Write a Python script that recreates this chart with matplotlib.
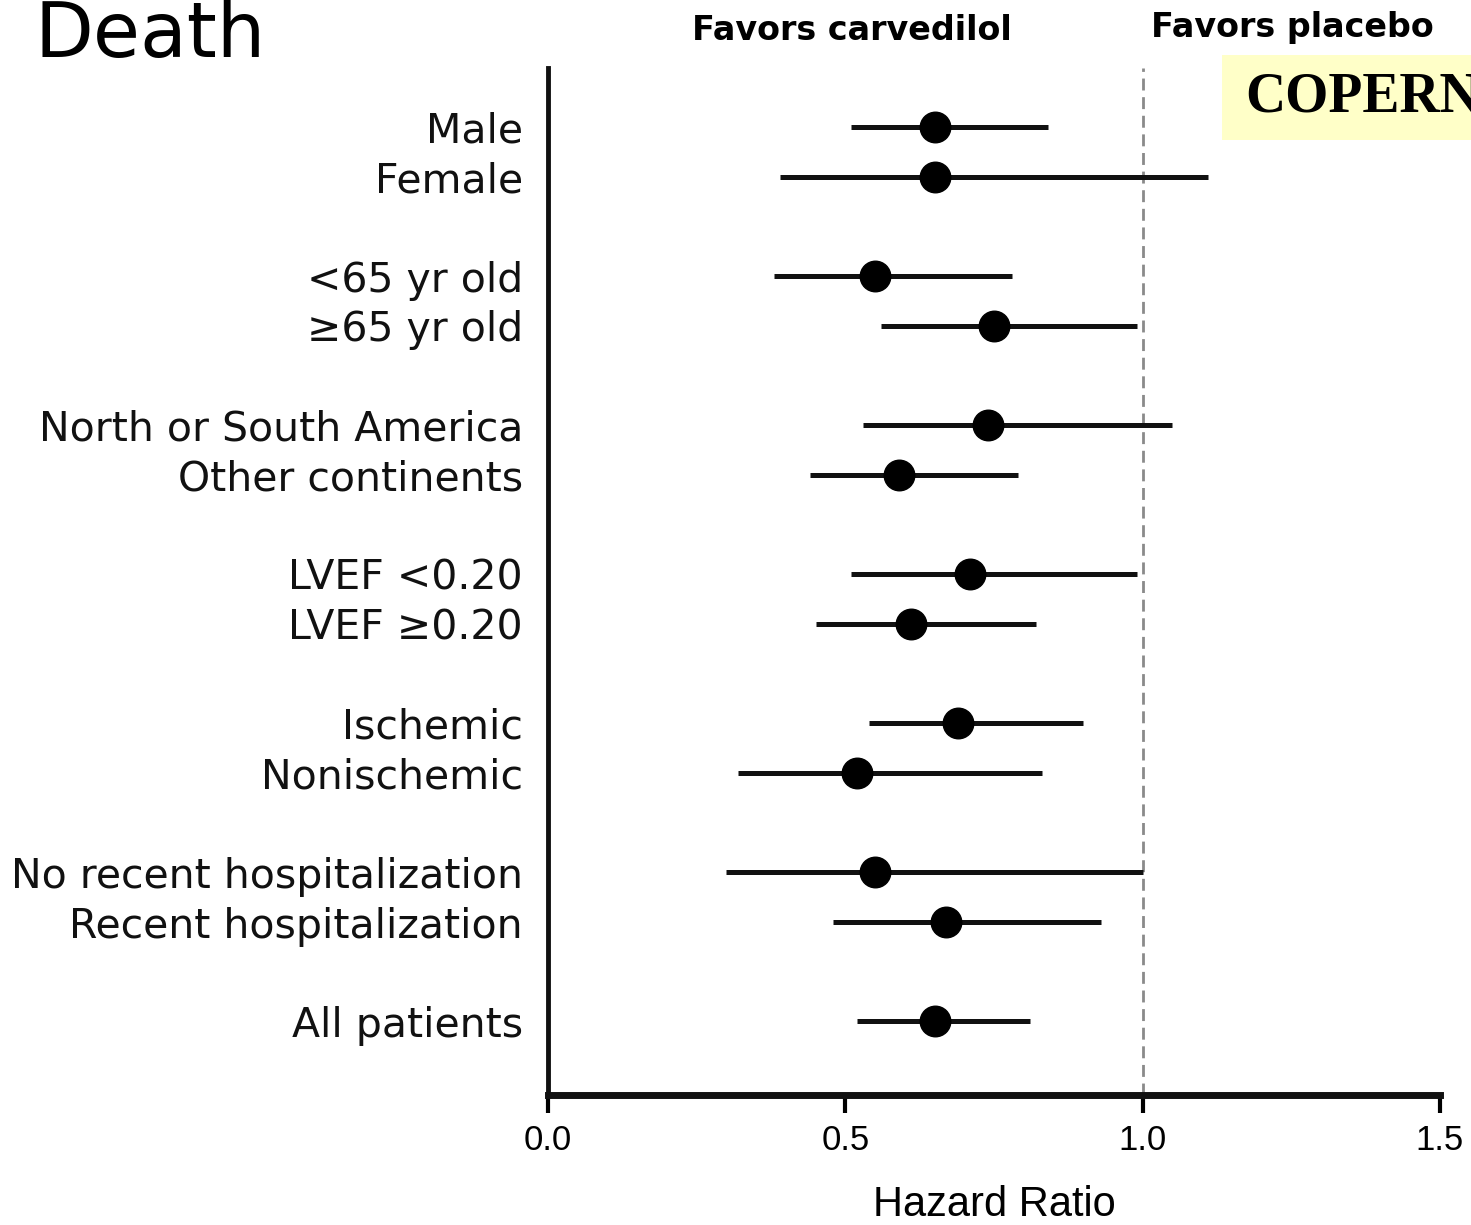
import matplotlib
matplotlib.use("Agg")
import matplotlib.pyplot as plt
from matplotlib.patches import Rectangle

# Subgroup hazard ratios with 95% confidence limits
labels = ["Male", "Female",
          "<65 yr old", "\u226565 yr old",
          "North or South America", "Other continents",
          "LVEF <0.20", "LVEF \u22650.20",
          "Ischemic", "Nonischemic",
          "No recent hospitalization", "Recent hospitalization",
          "All patients"]
rows = [0, 1, 3, 4, 6, 7, 9, 10, 12, 13, 15, 16, 18]
hr = [0.65, 0.65, 0.55, 0.75, 0.74, 0.59, 0.71, 0.61, 0.69, 0.52, 0.55, 0.67, 0.65]
lower = [0.51, 0.39, 0.38, 0.56, 0.53, 0.44, 0.51, 0.45, 0.54, 0.32, 0.30, 0.48, 0.52]
upper = [0.84, 1.11, 0.78, 0.99, 1.05, 0.79, 0.99, 0.82, 0.90, 0.83, 1.00, 0.93, 0.81]
xticks = [0.0, 0.5, 1.0, 1.5]
xtick_labels = ["0.0", "0.5", "1.0", "1.5"]

W, H = 1471, 1225
fig = plt.figure(figsize=(W / 100, H / 100), dpi=100)
ax = fig.add_axes([548 / W, 1 - 1095 / H, (1440 - 548) / W, (1095 - 68) / H])

for y, h, lo, up in zip(rows, hr, lower, upper):
    ax.plot([lo, up], [y, y], color="#111111", lw=3.6, solid_capstyle="butt", zorder=3)
    ax.plot(h, y, "o", color="black", ms=22, zorder=4)

ax.axvline(1.0, color="#8a8a8a", lw=2, ls=(0, (4.3, 2.4)), zorder=1)

ax.set_xlim(0, 1.5)
ax.set_ylim(19.48, -1.19)
ax.set_yticks(rows)
ax.set_yticklabels(labels)
for t in ax.get_yticklabels():
    t.set_fontsize(29.5)
    t.set_family("DejaVu Sans")
    t.set_color("#111111")
ax.tick_params(axis="y", length=0, pad=18)
ax.set_xticks(xticks)
ax.set_xticklabels(xtick_labels)
for t in ax.get_xticklabels():
    t.set_fontsize(25)
    t.set_family("Liberation Sans")
ax.tick_params(axis="x", length=13, width=3, direction="out", pad=8)
ax.set_xlabel("Hazard Ratio", fontsize=30, family="Liberation Sans", labelpad=20)

for side in ("top", "right"):
    ax.spines[side].set_visible(False)
ax.spines["left"].set_linewidth(3.5)
ax.spines["bottom"].set_linewidth(5)
ax.spines["left"].set_color("#111111")
ax.spines["bottom"].set_color("#111111")

fig.text(35 / W, 1 - 36 / H, "Death", fontsize=55, family="DejaVu Sans",
         va="center", ha="left")
fig.text(852 / W, 1 - 30 / H, "Favors carvedilol", fontsize=24, weight="bold",
         family="DejaVu Sans", ha="center", va="center")
fig.text(1292 / W, 1 - 28 / H, "Favors placebo", fontsize=24, weight="bold",
         family="DejaVu Sans", ha="center", va="center")

fig.patches.append(Rectangle((1222 / W, 1 - 140 / H), (W - 1222) / W, 85 / H,
                             transform=fig.transFigure, facecolor="#ffffc8",
                             edgecolor="none", zorder=0))
fig.text(1245 / W, 1 - 97 / H, "COPERNICUS", fontsize=40, weight="bold",
         family="Liberation Serif", ha="left", va="center")

fig.savefig("out.png", dpi=100)
